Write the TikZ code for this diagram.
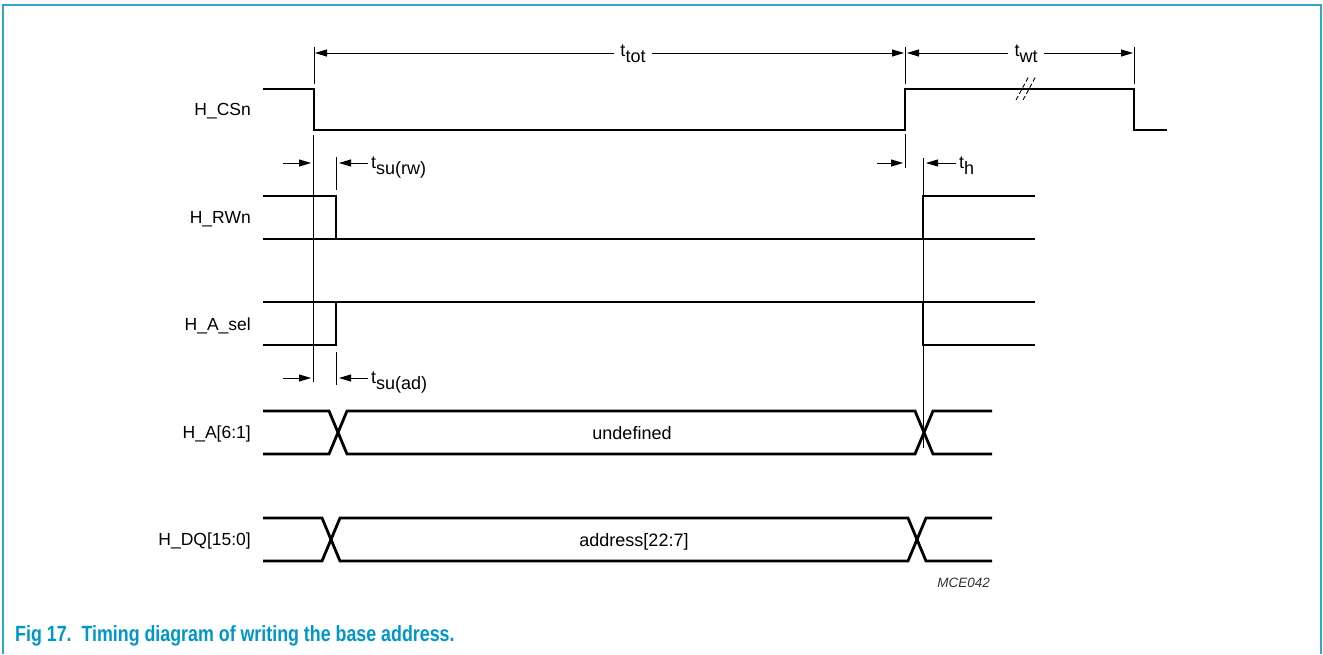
\documentclass[tikz,border=0pt]{standalone}
\usepackage{fontspec}
\setmainfont{Liberation Sans}
\newfontfamily\capfont[FakeStretch=0.81]{Liberation Sans}
\usetikzlibrary{arrows.meta}
\definecolor{figblue}{RGB}{0,150,200}
\definecolor{frameblue}{RGB}{50,165,205}
\newcommand\tsb[1]{t\raisebox{-6.5pt}{#1}}
\begin{document}
\begin{tikzpicture}[x=1pt,y=-1pt,
  sig/.style={line width=2.8pt, line join=miter},
  thinln/.style={line width=0.9pt},
  dimarr/.style={line width=0.9pt, -{Triangle[length=12pt,width=7pt]}},
  lab/.style={font=\fontsize{17.5}{20}\selectfont, anchor=base east, inner sep=0pt},
  tlab/.style={font=\fontsize{18}{20}\selectfont, anchor=base west, inner sep=0pt},
  tmid/.style={font=\fontsize{18}{20}\selectfont, anchor=base, inner sep=0pt},
  bus/.style={font=\fontsize{18}{20}\selectfont, anchor=base, inner sep=0pt}
]
\useasboundingbox (0,0) rectangle (1323,654);
% frame
\draw[frameblue, line width=2pt] (3,654) -- (3,5) -- (1321,5) -- (1321,654);

% signal names
\node[lab] (lcs)  at (251,115) {H\_CSn};
\node[lab] (lrw)  at (251,223) {H\_RWn};
\node[lab] (lsel) at (251,330) {H\_A\_sel};
\node[lab] (la)   at (251,438) {H\_A[6:1]};
\node[lab] (ldq)  at (251,545) {H\_DQ[15:0]};

% H_CSn
\draw[sig] (263,89) -- (314,89) -- (314,130) -- (905,130) -- (905,89) -- (1134,89) -- (1134,130) -- (1167,130);
% break mark
\draw[line width=0.9pt, dash pattern=on 4.5pt off 2.5pt] (1016,100) -- (1029,76);
\draw[line width=0.9pt, dash pattern=on 4.5pt off 2.5pt] (1023,100) -- (1036,76);

% H_RWn
\draw[sig] (263,196) -- (336,196) -- (336,239);
\draw[sig] (263,239) -- (1035,239);
\draw[sig] (923,239) -- (923,196) -- (1035,196);

% H_A_sel
\draw[sig] (263,302) -- (1035,302);
\draw[sig] (263,345) -- (336,345) -- (336,302);
\draw[sig] (923,302) -- (923,345) -- (1035,345);

% H_A[6:1]
\draw[sig] (263,411) -- (329,411) -- (347,454) -- (915,454) -- (933,411) -- (992,411);
\draw[sig] (263,454) -- (329,454) -- (347,411) -- (915,411) -- (933,454) -- (992,454);
\node[bus] (undef) at (632,439) {undefined};

% H_DQ[15:0]
\draw[sig] (263,518) -- (322,518) -- (340,561) -- (908,561) -- (926,518) -- (992,518);
\draw[sig] (263,561) -- (322,561) -- (340,518) -- (908,518) -- (926,561) -- (992,561);
\node[bus] (addr) at (634,546) {address[22:7]};

% reference lines
\coordinate (ta) at (314,53);
\coordinate (tc) at (905,53);
\coordinate (te) at (1134,53);
\draw[thinln] (314,47) -- (314,84);
\draw[thinln] (313,135) -- (313,382);
\draw[thinln] (905,47) -- (905,84);
\draw[thinln] (905,134) -- (905,168);
\draw[thinln] (1134,47) -- (1134,84);
\draw[thinln] (336,157) -- (336,190);
\draw[thinln] (336,352) -- (336,385);
\draw[thinln] (923,158) -- (923,448);

% t_tot
\node[tmid, fill=white, inner xsep=6pt] (ttot) at (633,56) {\tsb{tot}};
\draw[dimarr] (ttot.west |- ta) -- ([xshift=1pt]ta);
\draw[dimarr] (ttot.east |- tc) -- ([xshift=-1pt]tc);
% t_wt
\node[tmid, fill=white, inner xsep=6pt] (twt) at (1026,56) {\tsb{wt}};
\draw[dimarr] (twt.west |- tc) -- ([xshift=2pt]tc);
\draw[dimarr] (twt.east |- te) -- ([xshift=-1pt]te);

% t_su(rw)
\coordinate (rwa) at (311,163);
\coordinate (rwb) at (339,163);
\draw[dimarr] (283,163) -- (rwa);
\node[tlab] (tsurw) at (371,168) {\tsb{su(rw)}};
\draw[dimarr] ([xshift=-3pt]tsurw.west |- rwb) -- (rwb);

% t_su(ad)
\coordinate (ada) at (311,378);
\coordinate (adb) at (339,378);
\draw[dimarr] (283,378) -- (ada);
\node[tlab] (tsuad) at (371,383) {\tsb{su(ad)}};
\draw[dimarr] ([xshift=-3pt]tsuad.west |- adb) -- (adb);

% t_h
\coordinate (ha) at (903,163);
\coordinate (hb) at (926,163);
\draw[dimarr] (877,163) -- (ha);
\node[tlab] (th) at (959,168) {\tsb{h}};
\draw[dimarr] ([xshift=-3pt]th.west |- hb) -- (hb);

% figure id
\node[font=\itshape\fontsize{13.5}{15}\selectfont, anchor=base east, inner sep=0pt, text=black!80] (mce) at (990,587) {MCE042};

% caption
\node[anchor=base west, inner sep=0pt, text=figblue, font=\capfont\bfseries\fontsize{22}{26}\selectfont] (cap) at (15,641) {Fig 17.\hspace{0.45em}Timing diagram of writing the base address.};
\end{tikzpicture}
\end{document}
